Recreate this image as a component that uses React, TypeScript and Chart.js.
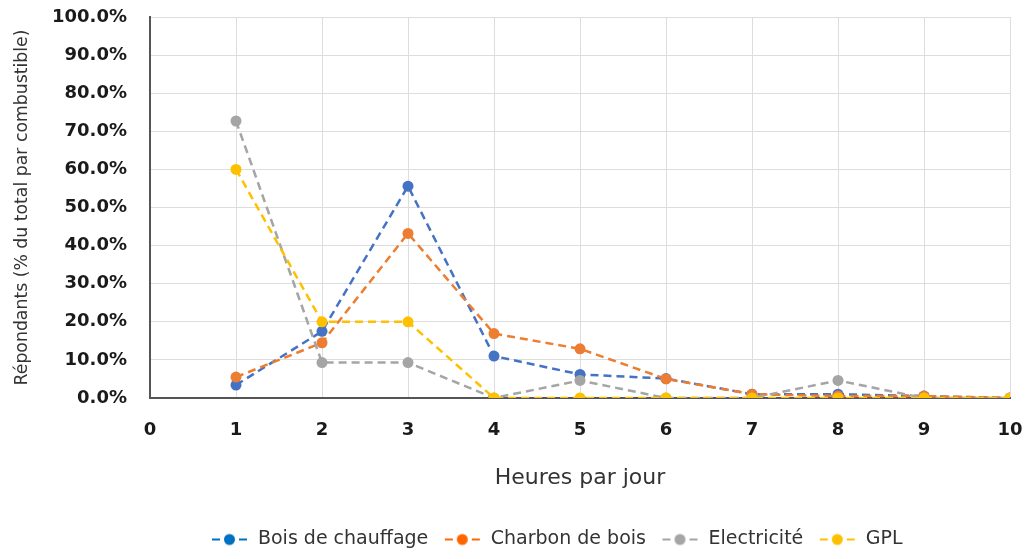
import React, { useEffect, useRef } from "react";
import { Chart, registerables } from "chart.js";

Chart.register(...registerables);

const hours = [1, 2, 3, 4, 5, 6, 7, 8, 9, 10];
const bois = [3.4, 17.5, 55.6, 11.0, 6.2, 5.1, 1.0, 1.0, 0.5, 0.0];
const charbon = [5.5, 14.5, 43.2, 16.9, 12.9, 5.0, 1.0, 0.5, 0.5, 0.0];
const electricite = [72.7, 9.3, 9.3, 0.0, 4.6, 0.0, 0.0, 4.6, 0.0, 0.0];
const gpl = [60.0, 20.0, 20.0, 0.0, 0.0, 0.0, 0.0, 0.0, 0.0, 0.0];
const seriesNames = ["Bois de chauffage", "Charbon de bois", "Electricité", "GPL"];
const colors = ["#4472C4", "#ED7D31", "#A5A5A5", "#FFC000"];
const legendColors = ["#0070C0", "#FF6600", "#A5A5A5", "#FFC000"];
const FONT = "'DejaVu Sans', sans-serif";

function legendIcon(color: string) {
  const c = document.createElement("canvas");
  c.width = 38;
  c.height = 14;
  const ctx = c.getContext("2d")!;
  ctx.strokeStyle = color;
  ctx.lineWidth = 2;
  ctx.beginPath();
  ctx.moveTo(1, 7); ctx.lineTo(9, 7);
  ctx.moveTo(28, 7); ctx.lineTo(36, 7);
  ctx.stroke();
  ctx.fillStyle = color;
  ctx.beginPath();
  ctx.arc(18.5, 7, 5.5, 0, Math.PI * 2);
  ctx.fill();
  return c;
}

const shiftLegend = {
  id: "shiftLegend",
  afterLayout(chart: any) {
    const lg = chart.legend;
    if (lg) {
      lg.left += 52;
      lg.right += 52;
    }
  },
};

export default function App() {
  const ref = useRef<HTMLCanvasElement>(null);
  useEffect(() => {
    document.body.style.margin = "0";
    const all = [bois, charbon, electricite, gpl];
    const chart = new Chart(ref.current!, {
      type: "line",
      data: {
        datasets: all.map((vals, i) => ({
          label: seriesNames[i],
          data: vals.map((v, j) => ({ x: hours[j], y: v })),
          borderColor: colors[i],
          backgroundColor: colors[i],
          borderWidth: 2.5,
          borderDash: [8, 5],
          pointRadius: 5.5,
          pointBorderWidth: 0,
          pointBackgroundColor: colors[i],
          tension: 0,
          order: 3 - i,
        })),
      },
      plugins: [shiftLegend],
      options: {
        animation: false,
        responsive: false,
        layout: { padding: { top: 17, right: 17, bottom: 0, left: 0 } },
        plugins: {
          tooltip: { enabled: false },
          legend: {
            position: "bottom",
            labels: {
              font: { family: FONT, size: 19 },
              color: "#333",
              usePointStyle: true,
              pointStyleWidth: 37,
              padding: 16,
              generateLabels: (ch: any) =>
                ch.data.datasets.map((d: any, i: number) => ({
                  text: d.label,
                  pointStyle: legendIcon(legendColors[i]),
                  fillStyle: legendColors[i],
                  strokeStyle: legendColors[i],
                  lineWidth: 0,
                  hidden: false,
                  datasetIndex: i,
                  fontColor: "#333",
                })),
            },
          },
        },
        scales: {
          x: {
            type: "linear",
            min: 0,
            max: 10,
            ticks: { stepSize: 1, color: "#1a1a1a", font: { family: FONT, size: 18, weight: "bold" }, padding: 3 },
            grid: { color: "#dddddd", drawTicks: true, tickLength: 19, tickColor: "rgba(0,0,0,0)", lineWidth: 1 },
            border: { color: "#555", width: 2 },
            title: {
              display: true,
              text: "Heures par jour",
              color: "#333",
              font: { family: FONT, size: 22 },
              padding: { top: 20, bottom: 23 },
            },
          },
          y: {
            min: 0,
            max: 100,
            ticks: {
              stepSize: 10,
              color: "#1a1a1a",
              font: { family: FONT, size: 18, weight: "bold" },
              padding: 3,
              callback: (v: any) => Number(v).toFixed(1) + "%",
            },
            grid: { color: "#dddddd", drawTicks: true, tickLength: 20, tickColor: "rgba(0,0,0,0)", lineWidth: 1 },
            border: { color: "#555", width: 2 },
            title: {
              display: true,
              text: "Répondants (% du total par combustible)",
              color: "#333",
              font: { family: FONT, size: 17.3 },
              padding: { top: 12, bottom: 8 },
            },
            afterFit: (s: any) => { s.width = 150; },
          },
        },
      },
    } as any);
    return () => chart.destroy();
  }, []);
  return <canvas ref={ref} width={1027} height={559} />;
}
